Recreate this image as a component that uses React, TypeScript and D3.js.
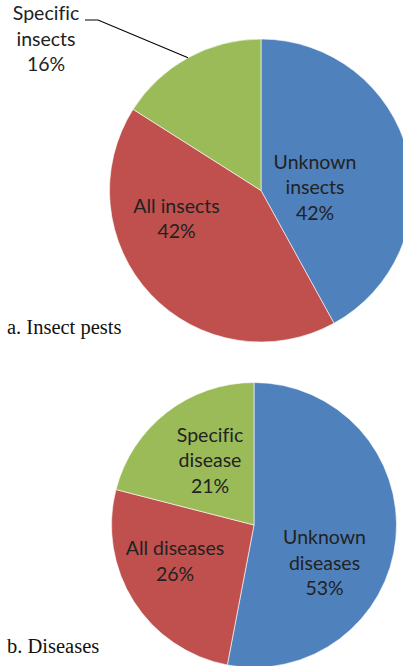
import React from 'react'
import * as d3 from 'd3'

// Data (clockwise from 12 o'clock)
const insectCategories = ['Unknown insects', 'All insects', 'Specific insects']
const insectValues = [42, 42, 16]
const diseaseCategories = ['Unknown diseases', 'All diseases', 'Specific disease']
const diseaseValues = [53, 26, 21]
const sliceColors = ['#4F81BD', '#C0504D', '#9BBB59']

const W = 403
const H = 666
const LINE_H = 25.7

// label layout: first baseline, offset from pie centre
const insectLabelPos = [
  { dx: 54, dy: -22 },
  { dx: -84.5, dy: 22 },
  { dx: -215, dy: -170.5 },
]
const diseaseLabelPos = [
  { dx: 70.5, dy: 19 },
  { dx: -79, dy: 30 },
  { dx: -44, dy: -83.3 },
]

function labelLines(cat: string, v: number) {
  const parts = cat.split(' ')
  const lines = cat.startsWith('All') ? [cat] : parts
  return [...lines, v + '%']
}

function Pie({ cx, cy, r, categories, values, labelPos, caption, captionY, leaderIndex }: any) {
  const pie = d3.pie<number>().sort(null).value(d => d)
  const arcs = pie(values)
  const arc = d3.arc<d3.PieArcDatum<number>>().innerRadius(0).outerRadius(r)
  const edge = d3.arc<d3.PieArcDatum<number>>().innerRadius(r).outerRadius(r)

  let leader = null
  if (leaderIndex != null) {
    const [ex, ey] = edge.centroid(arcs[leaderIndex])
    const p = labelPos[leaderIndex]
    const y0 = p.dy
    leader = (
      <path
        d={`M${-176},${y0} L${-163},${y0} L${ex},${ey}`}
        fill="none"
        stroke="#000"
        strokeWidth={1.1}
      />
    )
  }

  return (
    <g>
      <g transform={`translate(${cx},${cy})`}>
        {arcs.map((a, i) => (
          <path key={i} d={arc(a) || ''} fill={sliceColors[i]} stroke="#fff" strokeWidth={0.6} />
        ))}
        {leader}
        {arcs.map((a, i) => {
          const p = labelPos[i]
          return (
            <text
              key={'t' + i}
              textAnchor="middle"
              fontFamily="Lato, 'Noto Sans', sans-serif"
              fontSize={19.5}
              fill="#222"
              style={{ fontVariantLigatures: 'none' }}
            >
              {labelLines(categories[i], values[i]).map((l, j) => (
                <tspan key={j} x={p.dx} y={p.dy + j * LINE_H}>{l}</tspan>
              ))}
            </text>
          )
        })}
      </g>
      <text x={7} y={captionY} fontFamily="'Liberation Serif', 'Times New Roman', serif" fontSize={20.5} fill="#111">
        {caption}
      </text>
    </g>
  )
}

export default function App() {
  return (
    <svg width={W} height={H} style={{ position: 'absolute', left: 0, top: 0, background: '#fff' }}>
      <Pie
        cx={261}
        cy={190.5}
        r={151.5}
        categories={insectCategories}
        values={insectValues}
        labelPos={insectLabelPos}
        caption="a. Insect pests"
        captionY={333.5}
        leaderIndex={2}
      />
      <Pie
        cx={254}
        cy={525}
        r={142.5}
        categories={diseaseCategories}
        values={diseaseValues}
        labelPos={diseaseLabelPos}
        caption="b. Diseases"
        captionY={653}
      />
    </svg>
  )
}
